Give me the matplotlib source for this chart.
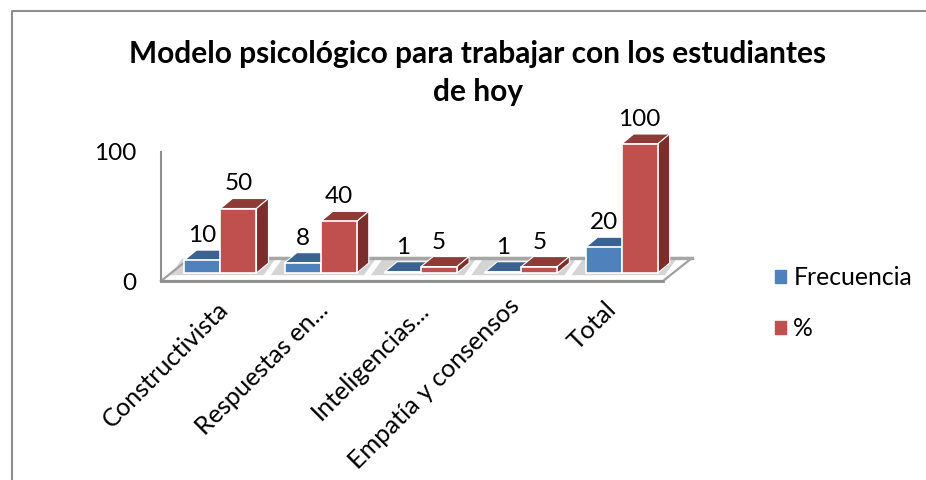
import matplotlib
matplotlib.use("Agg")
import matplotlib.pyplot as plt
from matplotlib.patches import Patch, Polygon
from matplotlib.transforms import Affine2D

plt.rcParams['font.family'] = ['Lato', 'DejaVu Sans']

categorias = ["Constructivista", "Respuestas en...", "Inteligencias...", "Empatía y consensos", "Total"]
frecuencia = [10, 8, 1, 1, 20]
porcentaje = [50, 40, 5, 5, 100]
titulo = "Modelo psicológico para trabajar con los estudiantes\nde hoy"

W, H = 926, 480
azul, azul_top = "#4F81BD", "#3C6291"
rojo, rojo_top, rojo_lado = "#C0504D", "#8E3B38", "#7B2E2C"

fig = plt.figure(figsize=(W / 100, H / 100), dpi=100)
# px of the reference -> figure fractions
x0, x1, y0, y1 = 161, 663, 281, 152
ax = fig.add_axes([x0 / W, 1 - y0 / H, (x1 - x0) / W, (y0 - y1) / H])
ax.set_xlim(-0.593, 4.412)
ax.set_ylim(0, 100)
ax.patch.set_alpha(0)

px_x = (x1 - x0) / 5.005   # px per category
px_y = (y0 - y1) / 100     # px per unit
ancho = 36 / px_x
dx, dy = 12 / px_x, 10 / px_y      # bar depth
sube = Affine2D().translate(0, 8)  # bars stand on the middle of the floor
tr = ax.transData + sube


def barra3d(x, v, color, top, lado):
    ax.fill([x, x + ancho, x + ancho + dx, x + dx], [v, v, v + dy, v + dy], color=top,
            transform=tr, zorder=3, lw=0.8, ec="white", clip_on=False)
    if color == rojo:
        ax.fill([x + ancho, x + ancho + dx, x + ancho + dx, x + ancho], [0, dy, v + dy, v],
                color=lado, transform=tr, zorder=3, lw=0.8, ec="white", clip_on=False)
    ax.bar(x, v, ancho, align="edge", color=color, ec="white", lw=1.2, transform=tr, zorder=4, clip_on=False)
    ax.annotate(str(v), (x + ancho / 2, v), xycoords=tr, xytext=(0, 24.5 * 0.72), textcoords="offset points",
                ha="center", va="center", fontsize=17.5, color="black", zorder=6, annotation_clip=False)


# floor
fx = 29 / px_x
fy = 23 / px_y
xa, xb = ax.get_xlim()
ax.add_patch(Polygon([(xa + fx, fy), (xb + fx, fy), (xb, 0), (xa, 0)], closed=True, fc="white", ec="none",
                     clip_on=False, zorder=1))
for i in range(5):
    ax.fill([i - 0.50, i + 0.43, i + 0.55, i - 0.38], [4.5, 4.5, 17.5, 17.5], color="#D4D4D4",
            ec="none", zorder=1.5, clip_on=False)
ax.plot([xa, xa + fx, xb + fx, xb, xa], [0, fy, fy, 0, 0], color="#A0A0A0", lw=1.6, clip_on=False, zorder=2)
ax.plot([xa + fx, xb + fx], [fy, fy], color="#A6A6A6", lw=2.4, clip_on=False, zorder=2)
ax.plot([xa, xb], [0, 0], color="#8E8E8E", lw=2, clip_on=False, zorder=2)

for i in range(5):
    barra3d(i - ancho, frecuencia[i], azul, azul_top, azul_top)
    barra3d(i, porcentaje[i], rojo, rojo_top, rojo_lado)

for s in ["top", "right", "bottom"]:
    ax.spines[s].set_visible(False)
ax.spines["left"].set_color("#8E8E8E")
ax.spines["left"].set_linewidth(1.5)
ax.set_yticks([0, 100])
ax.set_yticklabels(["0", "100"], fontsize=17.5)
ax.tick_params(axis="y", length=0, pad=18)
ax.set_xticks(range(5))
ax.set_xticklabels(categorias, rotation=45, ha="right", rotation_mode="anchor", fontsize=18.2)
ax.tick_params(axis="x", length=0, pad=12)
# the last two labels sit further left in the original
corre = {3: (-14, 4), 4: (-17, 0)}
for i, lab in enumerate(ax.get_xticklabels()):
    sx, sy = corre.get(i, (-4, 0))
    lab.set_transform(lab.get_transform() + Affine2D().translate(sx, sy))

fig.text(478 / W, 1 - 73 / H, titulo, ha="center", va="center", fontsize=21.5, fontweight="bold",
         linespacing=1.4)

fig.legend(handles=[Patch(color=azul, label="Frecuencia"), Patch(color=rojo, label="%")],
           loc="center left", bbox_to_anchor=(753 / W, 1 - 303 / H), frameon=False, fontsize=17.8,
           handlelength=0.45, handleheight=0.45, handletextpad=0.28, labelspacing=1.13)

# outer frame of the pasted chart
fig.add_artist(plt.Line2D([11.5 / W, 11.5 / W, 1], [0, 1 - 10.5 / H, 1 - 10.5 / H], color="#8E8E8E", lw=1.5))

fig.savefig("out.png", dpi=100, facecolor="white")
